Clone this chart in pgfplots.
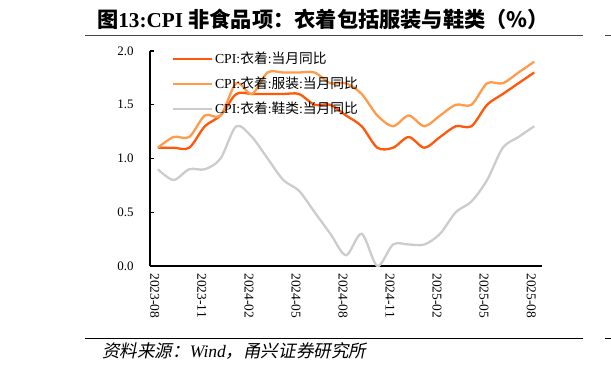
\documentclass[border=0pt]{standalone}
\usepackage{fontspec}
\setmainfont{Liberation Serif}
\newfontfamily\cjk{Noto Sans CJK SC}
\newfontfamily\cjkit{Noto Sans CJK SC}[FakeSlant=0.2]
\usepackage{pgfplots}
\pgfplotsset{compat=1.18}
\definecolor{cA}{RGB}{255,88,10}
\definecolor{cB}{RGB}{255,155,75}
\definecolor{cC}{RGB}{204,204,204}
\definecolor{rule}{RGB}{70,70,70}
\begin{document}
\begin{tikzpicture}[x=1bp,y=1bp]
\useasboundingbox (0,0) rectangle (611,371);
\node[font=\fontsize{21.3}{24}\selectfont\bfseries] at (323,352) {{\cjk 图}13:CPI {\cjk 非食品项：衣着包括服装与鞋类（\%）}};
\draw[rule, line width=0.9bp] (85,336) -- (583,336);
\draw[rule, line width=0.9bp] (605,336) -- (611,336);
\draw[black, line width=0.9bp] (85,33) -- (583,33);
\draw[black, line width=0.9bp] (605,33) -- (611,33);
\node[anchor=west, font=\fontsize{17.6}{19}\selectfont\itshape, inner sep=0] at (102,20) {{\cjkit 资料来源：}Wind{\cjkit ，甬兴证券研究所}};
\begin{axis}[
  at={(150bp,105bp)}, anchor=south west,
  scale only axis, width=392bp, height=215bp,
  xmin=-0.5, xmax=24.5, ymin=0, ymax=2,
  axis lines*=left,
  axis line style={black, line width=1.4bp},
  tick style={black, line width=1.2bp},
  tick align=inside,
  major tick length=4bp,
  ytick={0,0.5,1,1.5,2},
  yticklabel style={font=\fontsize{13}{15}\selectfont, /pgf/number format/fixed, /pgf/number format/fixed zerofill, /pgf/number format/precision=1, xshift=-13bp},
  /pgf/number format/assume math mode=true,
  xtick={0,3,...,24},
  xticklabels={2023-08,2023-11,2024-02,2024-05,2024-08,2024-11,2025-02,2025-05,2025-08},
  major x tick style={draw=none},
  xticklabel style={rotate=-90, anchor=west, font=\fontsize{13.5}{15}\selectfont, xshift=4bp, yshift=-3bp},
  extra x ticks={2.5,5.5,...,23.5},
  extra x tick labels={},
  extra x tick style={major x tick style={black, line width=1.2bp}},
  legend style={draw=none, fill=none, at={(0.055,1.005)}, anchor=north west, inner sep=0pt, row sep=8bp, font=\fontsize{13.8}{15}\selectfont},
  legend cell align=left,
  legend image code/.code={\draw[#1] (0bp,0bp) -- (39bp,0bp);},
  every axis plot/.append style={smooth, tension=0.5, line width=2.3bp},
]
\addplot[cA] coordinates {(0,1.1)(1,1.1)(2,1.1)(3,1.3)(4,1.4)(5,1.6)(6,1.6)(7,1.6)(8,1.6)(9,1.6)(10,1.5)(11,1.5)(12,1.4)(13,1.3)(14,1.1)(15,1.1)(16,1.2)(17,1.1)(18,1.2)(19,1.3)(20,1.3)(21,1.5)(22,1.6)(23,1.7)(24,1.8)};
\addlegendentry{CPI:{\cjk 衣着}:{\cjk 当月同比}}
\addplot[cB] coordinates {(0,1.1)(1,1.2)(2,1.2)(3,1.4)(4,1.4)(5,1.7)(6,1.6)(7,1.8)(8,1.8)(9,1.8)(10,1.8)(11,1.7)(12,1.7)(13,1.6)(14,1.4)(15,1.3)(16,1.4)(17,1.3)(18,1.4)(19,1.5)(20,1.5)(21,1.7)(22,1.7)(23,1.8)(24,1.9)};
\addlegendentry{CPI:{\cjk 衣着}:{\cjk 服装}:{\cjk 当月同比}}
\addplot[cC] coordinates {(0,0.9)(1,0.8)(2,0.9)(3,0.9)(4,1.0)(5,1.3)(6,1.2)(7,1.0)(8,0.8)(9,0.7)(10,0.5)(11,0.3)(12,0.1)(13,0.3)(14,0.0)(15,0.2)(16,0.2)(17,0.2)(18,0.3)(19,0.5)(20,0.6)(21,0.8)(22,1.1)(23,1.2)(24,1.3)};
\addlegendentry{CPI:{\cjk 衣着}:{\cjk 鞋类}:{\cjk 当月同比}}
\end{axis}
\end{tikzpicture}
\end{document}
